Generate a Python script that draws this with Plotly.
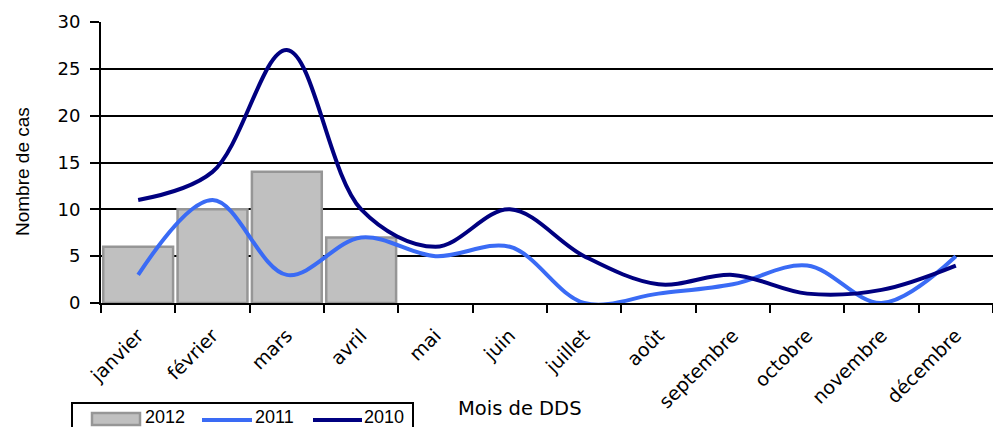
import plotly.graph_objects as go

months = ["janvier", "février", "mars", "avril", "mai", "juin", "juillet",
          "août", "septembre", "octobre", "novembre", "décembre"]
cases_2012 = [6, 10, 14, 7]
cases_2011 = [3, 11, 3, 7, 5, 6, 0, 1, 2, 4, 0, 5]
cases_2010 = [11, 14, 27, 10, 6, 10, 5, 2, 3, 1, 1.4, 4]
y_ticks = [0, 5, 10, 15, 20, 25, 30]
series_names = ["2012", "2011", "2010"]

ARIAL = "Liberation Sans, Arial, sans-serif"
WIDE = "DejaVu Sans, Verdana, sans-serif"
C2012, C2012_EDGE = "#c0c0c0", "#969696"
C2011, C2010 = "#3a6bf5", "#000080"

# page body has an 8px margin: figure pixel = screen pixel - 8
FIG_W, FIG_H = 985, 420
L, T, R, B = 93, 14, 0, 125
PW, PH = FIG_W - L - R, FIG_H - T - B


def px(sx):  # screen x -> paper x
    return (sx - 8 - L) / PW


def py(sy):  # screen y -> paper y
    return (FIG_H - B - (sy - 8)) / PH


fig = go.Figure()
fig.add_trace(go.Bar(
    x=months[:len(cases_2012)], y=cases_2012, name=series_names[0],
    marker=dict(color=C2012, line=dict(color=C2012_EDGE, width=2.5)),
))
fig.add_trace(go.Scatter(
    x=months, y=cases_2011, name=series_names[1], mode="lines",
    line=dict(color=C2011, width=4, shape="spline", smoothing=1),
))
fig.add_trace(go.Scatter(
    x=months, y=cases_2010, name=series_names[2], mode="lines",
    line=dict(color=C2010, width=4, shape="spline", smoothing=1),
))

# hand-drawn legend (box is cut off by the bottom edge, as in the original)
shapes = [
    dict(type="line", xref="paper", yref="paper", x0=px(72), x1=px(72),
         y0=py(403), y1=py(427), line=dict(color="black", width=2)),
    dict(type="line", xref="paper", yref="paper", x0=px(413), x1=px(413),
         y0=py(403), y1=py(427), line=dict(color="black", width=2)),
    dict(type="line", xref="paper", yref="paper", x0=px(71), x1=px(414),
         y0=py(403), y1=py(403), line=dict(color="black", width=2)),
    dict(type="rect", xref="paper", yref="paper", x0=px(92), x1=px(140),
         y0=py(425), y1=py(413), fillcolor=C2012,
         line=dict(color=C2012_EDGE, width=2.5)),
    dict(type="line", xref="paper", yref="paper", x0=px(202), x1=px(252),
         y0=py(420), y1=py(420), line=dict(color=C2011, width=4)),
    dict(type="line", xref="paper", yref="paper", x0=px(313), x1=px(362),
         y0=py(420), y1=py(420), line=dict(color=C2010, width=4)),
]
legend_text_x = [144, 254, 363]
annotations = [
    dict(text=name, xref="paper", yref="paper", x=px(sx), y=py(428),
         xanchor="left", yanchor="bottom", showarrow=False, borderpad=0,
         font=dict(family=ARIAL, size=18))
    for name, sx in zip(series_names, legend_text_x)
]
annotations += [
    dict(text="Mois de DDS", xref="paper", yref="paper",
         x=px(520), y=py(408), xanchor="center", yanchor="middle",
         showarrow=False, font=dict(family=WIDE, size=19.5)),
    dict(text="Nombre de cas", xref="paper", yref="paper",
         x=px(22), y=py(172), xanchor="center", yanchor="middle",
         showarrow=False, textangle=-90, font=dict(family=ARIAL, size=19)),
]

fig.update_layout(
    width=FIG_W, height=FIG_H,
    margin=dict(l=L, r=R, t=T, b=B),
    paper_bgcolor="white", plot_bgcolor="white",
    font=dict(family=ARIAL, size=18, color="black"),
    bargap=0.06,
    showlegend=False,
    xaxis=dict(
        type="category", categoryorder="array", categoryarray=months,
        range=[-0.5, 11.5], automargin=False,
        tickson="boundaries", ticks="outside", ticklen=8, tickwidth=2,
        tickcolor="black", tickangle=-45, ticklabelstandoff=12,
        showline=True, linecolor="black", linewidth=2,
        showgrid=False,
        tickfont=dict(family=WIDE, size=19),
    ),
    yaxis=dict(
        range=[0, 30], tickvals=y_ticks, automargin=False,
        ticks="outside", ticklen=9, tickwidth=2, tickcolor="black",
        ticklabelstandoff=6,
        showline=True, linecolor="black", linewidth=2,
        showgrid=True, gridcolor="black", gridwidth=2,
        zeroline=False,
        tickfont=dict(family=WIDE, size=18),
    ),
    shapes=shapes,
    annotations=annotations,
)

fig.write_html("out.html")
